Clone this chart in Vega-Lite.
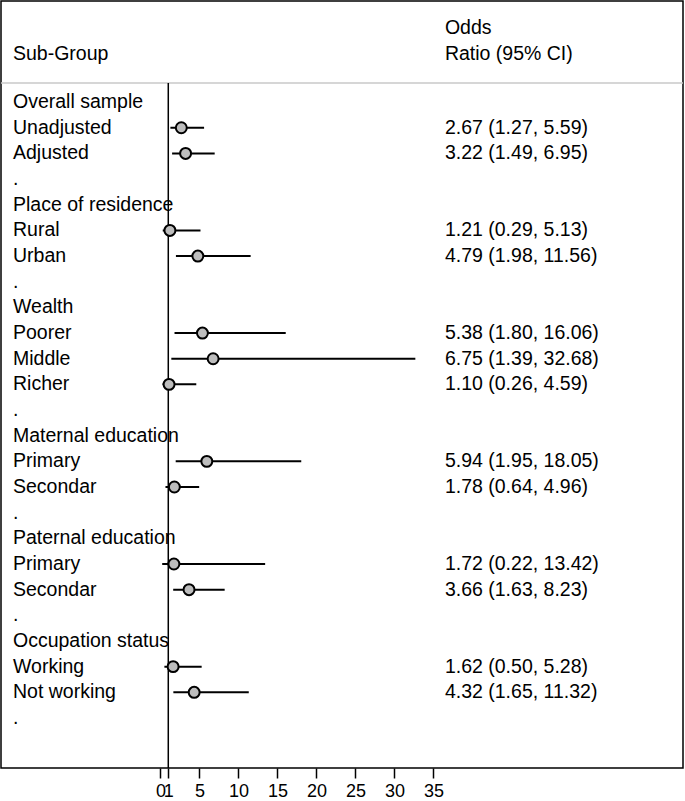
{
  "$schema": "https://vega.github.io/schema/vega-lite/v6.json",
  "width": 682,
  "height": 767,
  "autosize": {"type": "none"},
  "padding": {"left": 1, "top": 1, "right": 2, "bottom": 33},
  "background": "white",
  "config": {
    "view": {"stroke": "#000000", "strokeWidth": 1.5},
    "font": "Liberation Sans",
    "text": {"font": "Liberation Sans", "fontSize": 19.5, "color": "#000000"}
  },
  "data": {
    "values": [
      {"row": 0, "label": "Overall sample"},
      {"row": 1, "label": "Unadjusted", "or": 2.67, "lo": 1.27, "hi": 5.59, "ci": "2.67 (1.27, 5.59)"},
      {"row": 2, "label": "Adjusted", "or": 3.22, "lo": 1.49, "hi": 6.95, "ci": "3.22 (1.49, 6.95)"},
      {"row": 3, "label": "."},
      {"row": 4, "label": "Place of residence"},
      {"row": 5, "label": "Rural", "or": 1.21, "lo": 0.29, "hi": 5.13, "ci": "1.21 (0.29, 5.13)"},
      {"row": 6, "label": "Urban", "or": 4.79, "lo": 1.98, "hi": 11.56, "ci": "4.79 (1.98, 11.56)"},
      {"row": 7, "label": "."},
      {"row": 8, "label": "Wealth"},
      {"row": 9, "label": "Poorer", "or": 5.38, "lo": 1.80, "hi": 16.06, "ci": "5.38 (1.80, 16.06)"},
      {"row": 10, "label": "Middle", "or": 6.75, "lo": 1.39, "hi": 32.68, "ci": "6.75 (1.39, 32.68)"},
      {"row": 11, "label": "Richer", "or": 1.10, "lo": 0.26, "hi": 4.59, "ci": "1.10 (0.26, 4.59)"},
      {"row": 12, "label": "."},
      {"row": 13, "label": "Maternal education"},
      {"row": 14, "label": "Primary", "or": 5.94, "lo": 1.95, "hi": 18.05, "ci": "5.94 (1.95, 18.05)"},
      {"row": 15, "label": "Secondar", "or": 1.78, "lo": 0.64, "hi": 4.96, "ci": "1.78 (0.64, 4.96)"},
      {"row": 16, "label": "."},
      {"row": 17, "label": "Paternal education"},
      {"row": 18, "label": "Primary", "or": 1.72, "lo": 0.22, "hi": 13.42, "ci": "1.72 (0.22, 13.42)"},
      {"row": 19, "label": "Secondar", "or": 3.66, "lo": 1.63, "hi": 8.23, "ci": "3.66 (1.63, 8.23)"},
      {"row": 20, "label": "."},
      {"row": 21, "label": "Occupation status"},
      {"row": 22, "label": "Working", "or": 1.62, "lo": 0.50, "hi": 5.28, "ci": "1.62 (0.50, 5.28)"},
      {"row": 23, "label": "Not working", "or": 4.32, "lo": 1.65, "hi": 11.32, "ci": "4.32 (1.65, 11.32)"},
      {"row": 24, "label": "."}
    ]
  },
  "resolve": {"scale": {"x": "shared", "y": "shared"}},
  "layer": [
    {
      "data": {"values": [{}]},
      "mark": {"type": "rule", "color": "#c8c8c8", "strokeWidth": 1.5},
      "encoding": {
        "y": {"datum": -0.74, "type": "quantitative", "scale": {"domain": [-3.94, 25.95], "reverse": true, "nice": false, "zero": false}, "axis": null},
        "x": {"datum": -20.45, "type": "quantitative", "scale": {"domain": [-20.45, 67], "nice": false, "zero": false},
              "axis": {"values": [0, 1, 5, 10, 15, 20, 25, 30, 35], "grid": false, "domain": false, "tickSize": 10, "tickWidth": 1.5, "tickColor": "#000000", "labelFontSize": 18, "labelFont": "Liberation Sans", "labelColor": "#000000", "labelPadding": 4, "labelOverlap": false, "labelFlush": false, "labelBound": false, "title": null}},
        "x2": {"datum": 67}
      }
    },
    {
      "data": {"values": [{}]},
      "mark": {"type": "rule", "color": "#000000", "strokeWidth": 1.5},
      "encoding": {
        "x": {"datum": 1, "type": "quantitative"},
        "y": {"datum": -0.74, "type": "quantitative"},
        "y2": {"datum": 25.95}
      }
    },
    {
      "transform": [{"filter": "isValid(datum.or)"}],
      "mark": {"type": "rule", "color": "#000000", "strokeWidth": 2},
      "encoding": {
        "x": {"field": "lo", "type": "quantitative"},
        "x2": {"field": "hi"},
        "y": {"field": "row", "type": "quantitative"}
      }
    },
    {
      "transform": [{"filter": "isValid(datum.or)"}],
      "mark": {"type": "point", "shape": "circle", "filled": false, "fill": "#bdbdbd", "fillOpacity": 1, "stroke": "#000000", "strokeWidth": 2, "size": 120, "opacity": 1},
      "encoding": {
        "x": {"field": "or", "type": "quantitative"},
        "y": {"field": "row", "type": "quantitative"}
      }
    },
    {
      "mark": {"type": "text", "align": "left", "baseline": "middle"},
      "encoding": {
        "x": {"datum": -18.91, "type": "quantitative"},
        "y": {"field": "row", "type": "quantitative"},
        "text": {"field": "label"}
      }
    },
    {
      "transform": [{"filter": "isValid(datum.or)"}],
      "mark": {"type": "text", "align": "left", "baseline": "middle"},
      "encoding": {
        "x": {"datum": 36.47, "type": "quantitative"},
        "y": {"field": "row", "type": "quantitative"},
        "text": {"field": "ci"}
      }
    },
    {
      "data": {"values": [{}]},
      "mark": {"type": "text", "align": "left", "baseline": "middle"},
      "encoding": {
        "x": {"datum": -18.91, "type": "quantitative"},
        "y": {"datum": -1.87, "type": "quantitative"},
        "text": {"value": "Sub-Group"}
      }
    },
    {
      "data": {"values": [{}]},
      "mark": {"type": "text", "align": "left", "baseline": "middle"},
      "encoding": {
        "x": {"datum": 36.47, "type": "quantitative"},
        "y": {"datum": -2.89, "type": "quantitative"},
        "text": {"value": "Odds"}
      }
    },
    {
      "data": {"values": [{}]},
      "mark": {"type": "text", "align": "left", "baseline": "middle"},
      "encoding": {
        "x": {"datum": 36.47, "type": "quantitative"},
        "y": {"datum": -1.87, "type": "quantitative"},
        "text": {"value": "Ratio (95% CI)"}
      }
    }
  ]
}
